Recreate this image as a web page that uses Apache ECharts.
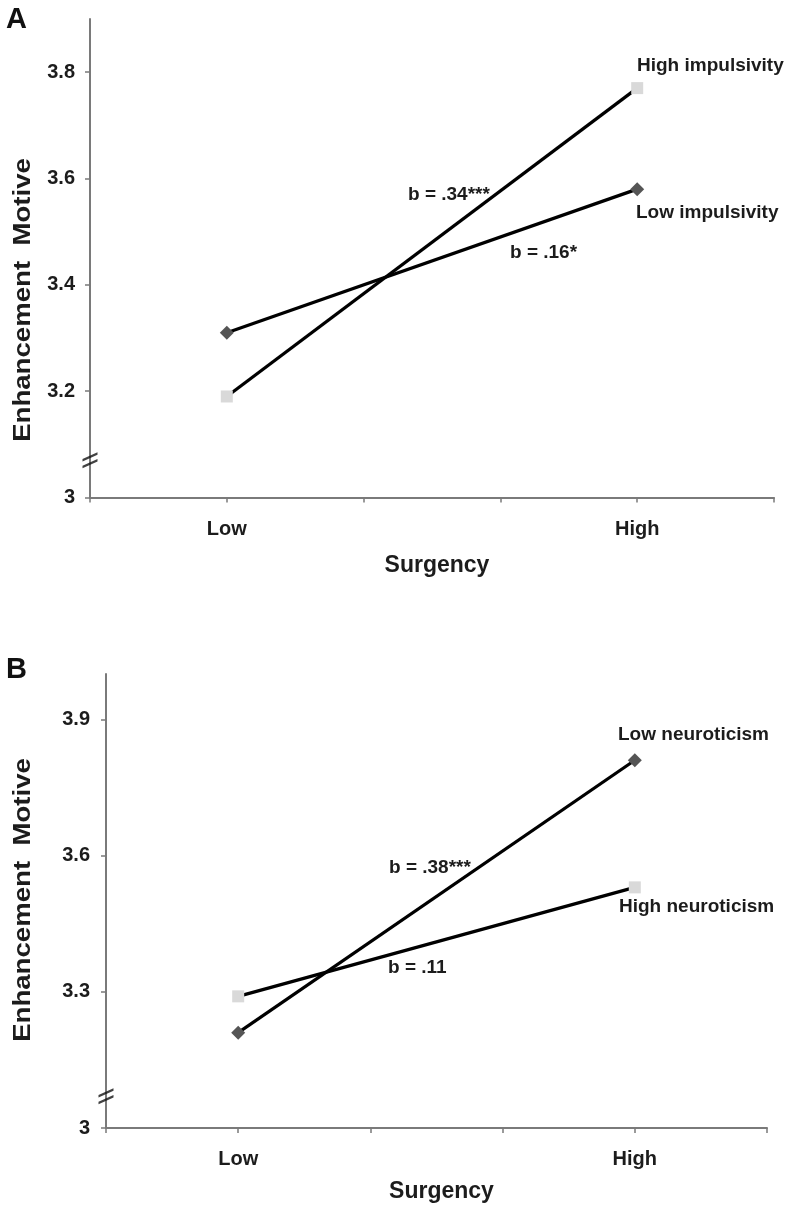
<!DOCTYPE html>
<html>
<head>
<meta charset="utf-8">
<script src="https://cdn.jsdelivr.net/npm/echarts@6/dist/echarts.min.js"></script>
<style>
html,body{margin:0;padding:0;background:#fff;}
#chart{width:795px;height:1205px;}
</style>
</head>
<body>
<div id="chart"></div>
<script>
// ---- data ----
const categories = ['', 'Low', '', '', 'High', ''];
const yTicksA = [3, 3.2, 3.4, 3.6, 3.8];
const yTicksB = [3, 3.3, 3.6, 3.9];
const lowImpulsivity  = [null, 3.31, null, null, 3.58, null];
const highImpulsivity = [null, 3.19, null, null, 3.77, null];
const lowNeuroticism  = [null, 3.21, null, null, 3.81, null];
const highNeuroticism = [null, 3.29, null, null, 3.53, null];
const breakValue = 3.07;
const xTitle = 'Surgency';
const yTitle = 'Enhancement  Motive';
const panelLabels = ['A', 'B'];
const notesA = ['High impulsivity', 'Low impulsivity', 'b = .34***', 'b = .16*'];
const notesB = ['Low neuroticism', 'High neuroticism', 'b = .38***', 'b = .11'];

// ---- styling / layout ----
const FONT = '"Liberation Sans", Arial, sans-serif';
const TXT = '#1c1c1c';
const AX = '#7a7a7a';
const chart = echarts.init(document.getElementById('chart'), null, {renderer: 'canvas'});

function xAxisCfg(gridIndex, labelMargin, nameGap) {
  return {
    type: 'category', gridIndex, data: categories, boundaryGap: false,
    axisLine: {lineStyle: {color: AX, width: 2}},
    axisTick: {show: true, interval: 0, length: 5, lineStyle: {color: AX, width: 1.5}},
    axisLabel: {interval: 0, margin: labelMargin, color: TXT, fontFamily: FONT, fontWeight: 'bold', fontSize: 20},
    name: xTitle, nameLocation: 'middle', nameGap,
    nameTextStyle: {color: TXT, fontFamily: FONT, fontWeight: 'bold', fontSize: 23, padding: [0, 0, 0, 10]},
    splitLine: {show: false}
  };
}
function yAxisCfg(gridIndex, max, ticks, margin) {
  return {
    type: 'value', gridIndex, min: 3, max,
    axisLine: {show: true, lineStyle: {color: AX, width: 2}},
    axisTick: {show: true, length: 5, customValues: ticks, lineStyle: {color: AX, width: 1.5}},
    axisLabel: {customValues: ticks, margin, color: TXT, fontFamily: FONT, fontWeight: 'bold', fontSize: 20},
    splitLine: {show: false}
  };
}
function lineSeries(idx, data, symbol, color, size) {
  return {
    type: 'line', xAxisIndex: idx, yAxisIndex: idx, data, connectNulls: true,
    symbol, symbolSize: size, showAllSymbol: true,
    lineStyle: {color: '#000', width: 3.2},
    itemStyle: {color},
    emphasis: {disabled: true}, z: 3
  };
}
function breakSeries(idx) {
  return {
    type: 'scatter', xAxisIndex: idx, yAxisIndex: idx, data: [[0, breakValue]],
    symbol: 'path://M0,7 L14,0 L14,2.6 L0,9.6 Z M0,14 L14,7 L14,9.6 L0,16.6 Z',
    symbolSize: [15, 16], itemStyle: {color: '#111'}, z: 5, silent: true
  };
}
function txt(text, x, y) {
  return {
    type: 'text', x, y, silent: true,
    style: {text, fill: TXT, font: 'bold 19px ' + FONT, textAlign: 'left', textVerticalAlign: 'middle'}
  };
}
function panelLetter(text, y) {
  return {
    type: 'text', x: 6, y, silent: true,
    style: {text, fill: '#111', font: 'bold 29px ' + FONT, textAlign: 'left', textVerticalAlign: 'middle'}
  };
}
function yTitleText(y) {
  return {
    type: 'text', x: 23, y, rotation: Math.PI / 2, scaleX: 1.15, silent: true,
    style: {text: yTitle, fill: TXT, font: 'bold 24px ' + FONT, textAlign: 'center', textVerticalAlign: 'middle'}
  };
}

const option = {
  animation: false,
  backgroundColor: '#fff',
  grid: [
    {left: 90, top: 19, width: 684, height: 478.5},
    {left: 106, top: 674, width: 661, height: 454}
  ],
  xAxis: [xAxisCfg(0, 22, 57), xAxisCfg(1, 21, 52)],
  yAxis: [yAxisCfg(0, 3.9, yTicksA, 15), yAxisCfg(1, 4.0, yTicksB, 16)],
  series: [
    lineSeries(0, lowImpulsivity, 'diamond', '#555555', 14),
    lineSeries(0, highImpulsivity, 'rect', '#d9d9d9', 12),
    lineSeries(1, lowNeuroticism, 'diamond', '#555555', 14),
    lineSeries(1, highNeuroticism, 'rect', '#d9d9d9', 12),
    breakSeries(0), breakSeries(1)
  ],
  graphic: [
    panelLetter(panelLabels[0], 20),
    panelLetter(panelLabels[1], 670),
    yTitleText(300),
    yTitleText(900),
    txt(notesA[0], 637, 66),
    txt(notesA[1], 636, 213),
    txt(notesA[2], 408, 195),
    txt(notesA[3], 510, 253),
    txt(notesB[0], 618, 735),
    txt(notesB[1], 619, 907),
    txt(notesB[2], 389, 868),
    txt(notesB[3], 388, 968)
  ]
};
chart.setOption(option);
</script>
</body>
</html>
